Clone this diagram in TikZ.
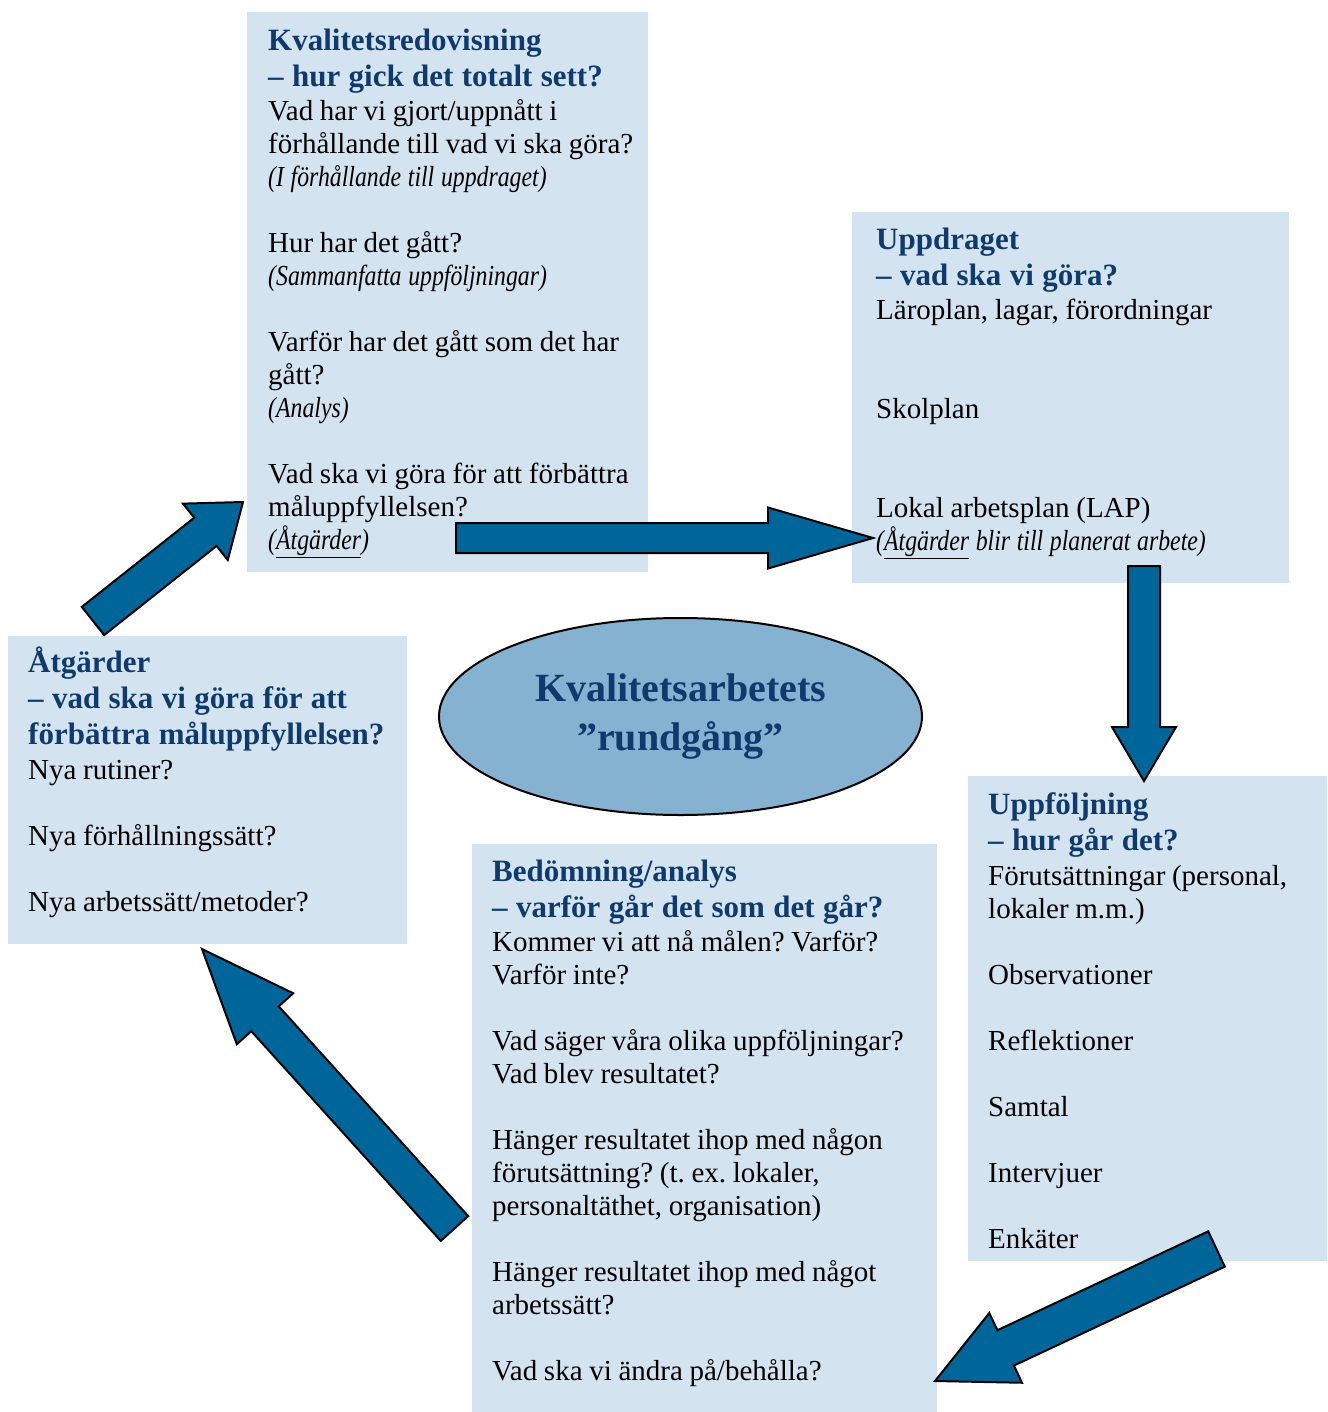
\documentclass[tikz,border=0pt]{standalone}
\usepackage{fontspec}
\setmainfont{Liberation Serif}[ItalicFeatures={FakeStretch=0.82}]
\usetikzlibrary{shapes.geometric,calc}
\definecolor{boxfill}{HTML}{D3E4F0}
\definecolor{ellfill}{HTML}{86B2D1}
\definecolor{titleblue}{HTML}{0E3A6E}
\definecolor{arrowblue}{HTML}{00669A}
\newcommand\hdfont{\frenchspacing\fontsize{31}{36}\selectfont\bfseries\spaceskip 0.27em plus 0.1em minus 0.05em\relax\color{titleblue}}
\newcommand\bdfont{\frenchspacing\fontsize{29}{33}\selectfont\mdseries\spaceskip 0.23em plus 0.1em minus 0.05em\relax\color{black}}
\newcommand\ellfont{\fontsize{40}{49}\selectfont\bfseries}
\newcommand\blockarrow[5]{%
  \coordinate (bah) at ($(#2)!#5!(#1)$);
  \filldraw[blockarr] ($(#1)!#3!90:(#2)$) -- ($(bah)!#3!-90:(#1)$) -- ($(bah)!#4!-90:(#1)$) -- (#2) -- ($(bah)!#4!90:(#1)$) -- ($(bah)!#3!90:(#1)$) -- ($(#1)!#3!-90:(#2)$) -- cycle;}
\begin{document}
\begin{tikzpicture}[x=1pt,y=-1pt,
  panel/.style={rectangle,fill=boxfill,draw=none,inner sep=0pt},
  paneltext/.style={anchor=base west,inner sep=0pt,text width=520pt,align=left},
  blockarr/.style={fill=arrowblue,draw=black,line width=2pt,line join=miter},
  centre/.style={ellipse,fill=ellfill,draw=black,line width=2pt,inner sep=0pt,
    minimum width=483pt,minimum height=197pt,align=center,text=titleblue,
    font=\ellfont}]
\useasboundingbox (0,0) rectangle (1327,1412);
% panels
\node[panel,minimum width=401pt,minimum height=560pt] (p1) at (447.5,292) {};
\node[panel,minimum width=437pt,minimum height=371pt] (p2) at (1070.5,397.5) {};
\node[panel,minimum width=359pt,minimum height=485pt] (p3) at (1147.5,1018.5) {};
\node[panel,minimum width=465pt,minimum height=568pt] (p4) at (704.5,1128) {};
\node[panel,minimum width=399pt,minimum height=308pt] (p5) at (207.5,790) {};
% centre
\node[centre] (c) at (680.5,716.5) {Kvalitetsarbetets\\”rundgång”};
% texts
\node[paneltext] (t1) at (268,51) {\hdfont Kvalitetsredovisning\\ – hur gick det totalt sett?\par\vspace{1pt}
\bdfont Vad har vi gjort/uppnått i\\ förhållande till vad vi ska göra?\\ \textit{(I förhållande till uppdraget)}\\ ~\\
Hur har det gått?\\ \textit{(Sammanfatta uppföljningar)}\\ ~\\
Varför har det gått som det har\\ gått?\\ \textit{(Analys)}\\ ~\\
Vad ska vi göra för att förbättra\\ måluppfyllelsen?\\ \textit{(\underline{Åtgärder})}\par};
\node[paneltext] (t2) at (876,250) {\hdfont Uppdraget\\ – vad ska vi göra?\par\vspace{1pt}
\bdfont Läroplan, lagar, förordningar\\ ~\\ ~\\ Skolplan\\ ~\\ ~\\ Lokal arbetsplan (LAP)\\ \textit{(\underline{Åtgärder} blir till planerat arbete)}\par};
\node[paneltext] (t3) at (988,814) {\hdfont Uppföljning\\ – hur går det?\par\vspace{2pt}
\bdfont Förutsättningar (personal,\\ lokaler m.m.)\\ ~\\ Observationer\\ ~\\ Reflektioner\\ ~\\ Samtal\\ ~\\ Intervjuer\\ ~\\ Enkäter\par};
\node[paneltext] (t4) at (492,881) {\hdfont Bedömning/analys\\ – varför går det som det går?\par\vspace{1pt}
\bdfont Kommer vi att nå målen? Varför?\\ Varför inte?\\ ~\\ Vad säger våra olika uppföljningar?\\ Vad blev resultatet?\\ ~\\ Hänger resultatet ihop med någon\\ förutsättning? (t. ex. lokaler,\\ personaltäthet, organisation)\\ ~\\ Hänger resultatet ihop med något\\ arbetssätt?\\ ~\\ Vad ska vi ändra på/behålla?\par};
\node[paneltext] (t5) at (28,672) {\hdfont Åtgärder\\ – vad ska vi göra för att\\ förbättra måluppfyllelsen?\par\vspace{2pt}
\bdfont Nya rutiner?\\ ~\\ Nya förhållningssätt?\\ ~\\ Nya arbetssätt/metoder?\par};
% arrow ends
\coordinate (aAt) at (456,538);   \coordinate (aAh) at (873,538);
\coordinate (aBt) at (1144,566);  \coordinate (aBh) at (1144,781);
\coordinate (aCt) at (1216.5,1249); \coordinate (aCh) at (935,1381);
\coordinate (aDt) at (454.5,1228.5); \coordinate (aDh) at (202,949);
\coordinate (aEt) at (93,621);    \coordinate (aEh) at (243,502);
\blockarrow{aAt}{aAh}{15pt}{30.5pt}{105pt}
\blockarrow{aBt}{aBh}{16pt}{32pt}{54pt}
\blockarrow{aCt}{aCh}{19.5pt}{38.5pt}{78pt}
\blockarrow{aDt}{aDh}{18.5pt}{38pt}{94pt}
\blockarrow{aEt}{aEh}{18pt}{36pt}{48pt}
\end{tikzpicture}
\end{document}
